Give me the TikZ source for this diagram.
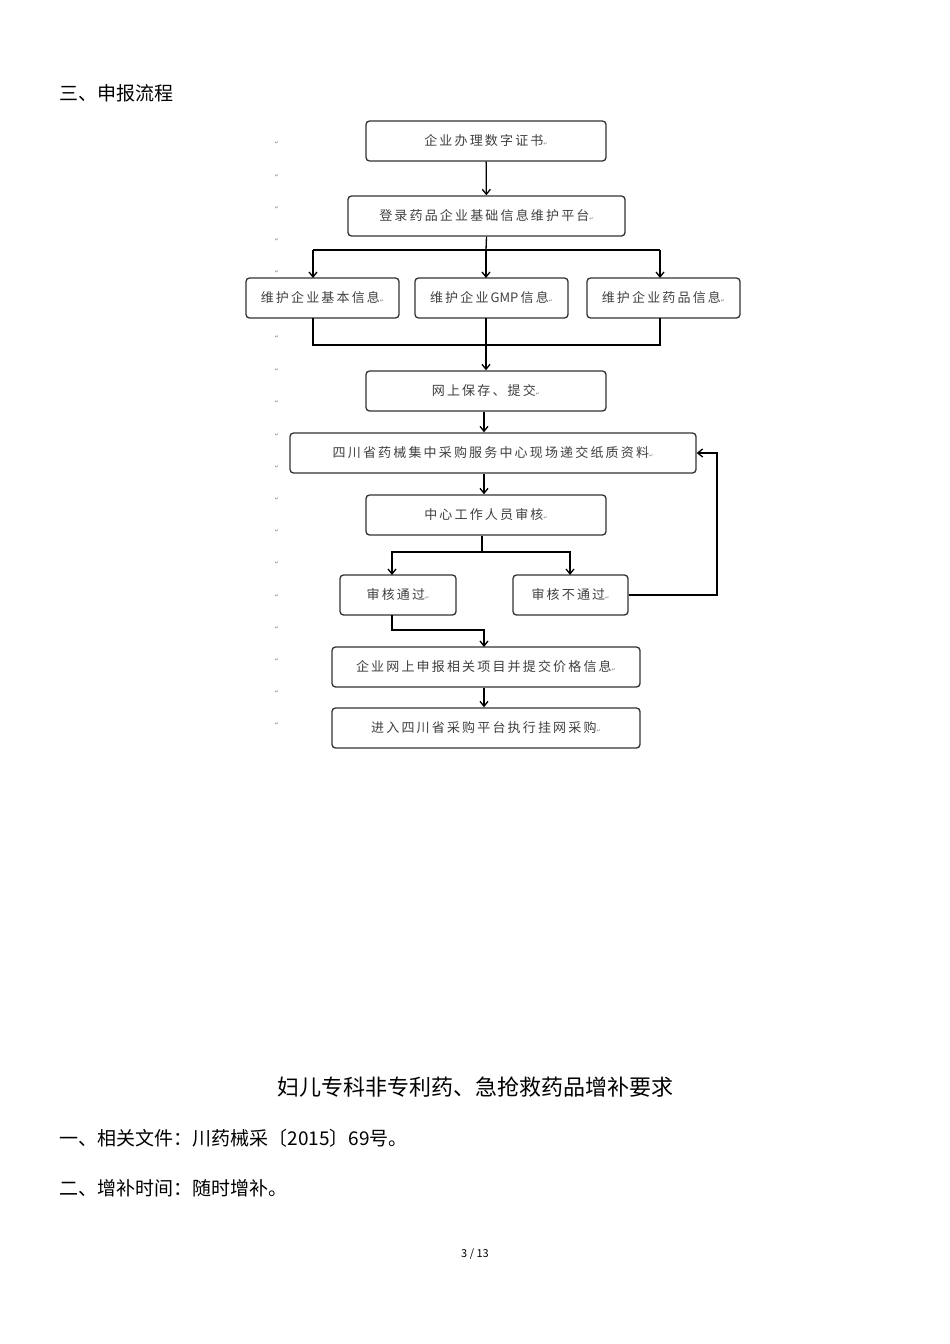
\documentclass[tikz,border=0pt]{standalone}
\usepackage{fontspec}
\setmainfont{Noto Sans CJK SC}
\newfontfamily\symfont{DejaVu Sans}
\usetikzlibrary{arrows.meta,positioning}
\newcommand{\ret}{{\symfont\tiny\textcolor{black!50}{↵}}}
\tikzset{
  flowbox/.style={draw=black!80,line width=1.3pt,rounded corners=3.5pt,minimum height=40pt,
    font=\fontsize{13pt}{15pt}\selectfont,text=black!75},
  flow/.style={line width=1.3pt,-{Straight Barb[length=5pt,width=8pt]}},
  link/.style={line width=1.3pt}
}
\begin{document}
\begin{tikzpicture}[x=1pt,y=-1pt]
  \useasboundingbox[fill=white] (0,0) rectangle (950,1344);

  \node[anchor=west,font=\fontsize{19pt}{22pt}\selectfont] (head) at (56,93) {三、申报流程};

  % left column of return marks
  \foreach \y in {143,176,208,240,272,337,370,402,435,467,499,531,563,596,628,660,692,724}
    \node (r\y) at (277,\y) {\ret};

  \node[flowbox,minimum width=240pt] (cert) at (486,141) {企\,业\,办\,理\,数\,字\,证\,书\ret};
  \node[flowbox,minimum width=277pt] (login) at (486.5,216) {登\,录\,药\,品\,企\,业\,基\,础\,信\,息\,维\,护\,平\,台\ret};
  \node[flowbox,minimum width=153pt] (basic) at (322.5,298) {维\,护\,企\,业\,基\,本\,信\,息\ret};
  \node[flowbox,minimum width=153pt] (gmp) at (491.5,298) {维\,护\,企\,业\,GMP\,信\,息\ret};
  \node[flowbox,minimum width=153pt] (drug) at (663.5,298) {维\,护\,企\,业\,药\,品\,信\,息\ret};
  \node[flowbox,minimum width=240pt] (save) at (486,391) {网\,上\,保\,存\,、\,提\,交\ret};
  \node[flowbox,minimum width=406pt] (paper) at (493,453) {四\,川\,省\,药\,械\,集\,中\,采\,购\,服\,务\,中\,心\,现\,场\,递\,交\,纸\,质\,资\,料\ret};
  \node[flowbox,minimum width=240pt] (audit) at (486,515) {中\,心\,工\,作\,人\,员\,审\,核\ret};
  \node[flowbox,minimum width=116pt] (pass) at (398,595) {审\,核\,通\,过\ret};
  \node[flowbox,minimum width=115pt] (fail) at (570.5,595) {审\,核\,不\,通\,过\ret};
  \node[flowbox,minimum width=308pt] (price) at (486,667) {企\,业\,网\,上\,申\,报\,相\,关\,项\,目\,并\,提\,交\,价\,格\,信\,息\ret};
  \node[flowbox,minimum width=308pt] (enter) at (486,728) {进\,入\,四\,川\,省\,采\,购\,平\,台\,执\,行\,挂\,网\,采\,购\ret};

  \coordinate (split) at (486,250);
  \coordinate (merge) at (486,345);
  \coordinate (fork) at (482,552);
  \coordinate (back) at (717,453);

  \draw[flow] (cert) -- (login);
  \draw[link] (login.south) -- (split);
  \draw[link] (313,250) -- (660,250);
  \draw[flow] (313,250) -- (313,278);
  \draw[flow] (split) -- (486,278);
  \draw[flow] (660,250) -- (660,278);
  \draw[link] (313,318) |- (660,345) -- (660,318);
  \draw[link] (486,318) -- (merge);
  \draw[flow] (merge) -- (save.north -| merge);
  \draw[flow] (save.south -| 484,0) -- (paper.north -| 484,0);
  \draw[flow] (paper.south -| 484,0) -- (audit.north -| 484,0);
  \draw[link] (audit.south -| fork) -- (fork);
  \draw[flow] (fork) -| (392,575);
  \draw[flow] (fork) -| (570,575);
  \draw[flow] (fail.east) -- (back |- fail.east) -- (back) -- (paper.east);
  \draw[flow] (392,615) -- (392,630) -| (484,647);
  \draw[flow] (price.south -| 484,0) -- (enter.north -| 484,0);

  \node[font=\fontsize{22pt}{26pt}\selectfont] (title) at (475,1087) {妇儿专科非专利药、急抢救药品增补要求};
  \node[anchor=west,font=\fontsize{19pt}{22pt}\selectfont] (doc) at (56,1138) {一、相关文件：川药械采〔2015〕69号。};
  \node[anchor=west,font=\fontsize{19pt}{22pt}\selectfont] (time) at (56,1188) {二、增补时间：随时增补。};
  \node[font=\fontsize{11pt}{13pt}\selectfont] (page) at (475,1254) {3 / 13};
\end{tikzpicture}
\end{document}
